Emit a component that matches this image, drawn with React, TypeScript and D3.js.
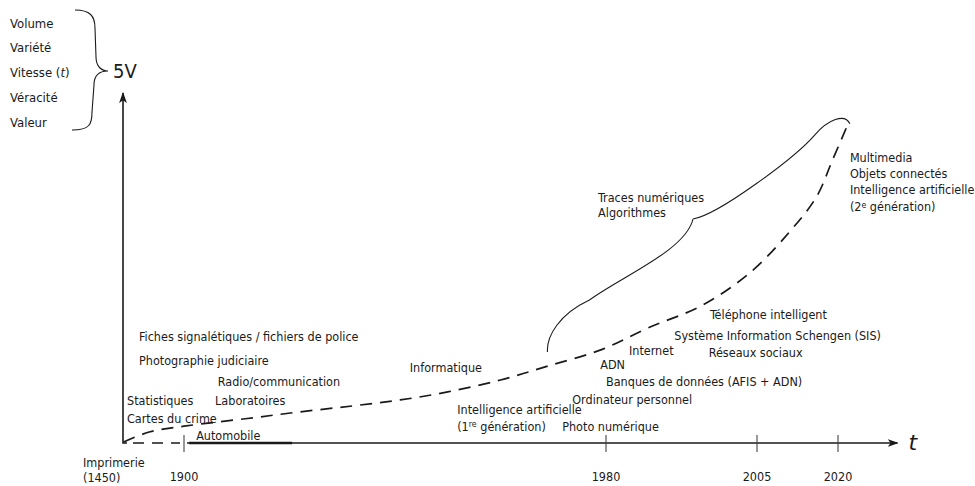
import React from "react";
import * as d3 from "d3";

// timeline ticks (years) and their labels
const tickYears = [1900, 1980, 2005, 2020];
const originYear = 1450;
const axisEndYear = 2031;

// "5V" list
const vWords = ["Volume", "Variété", "Vitesse", "Véracité", "Valeur"];

// growth curve (year, relative volume 0-100)
const curveYears = [1455, 1650, 1900, 1912, 1922, 1932, 1941, 1950, 1960, 1969, 1979, 1987, 1996, 2004, 2011, 2016, 2019, 2022];
const curveValues = [0.3, 3.2, 4.8, 7, 8.9, 10.6, 12.3, 14.6, 18, 22, 26.6, 32.9, 39.4, 48.9, 60.3, 70.3, 80.9, 91.7];

// automobile period drawn heavier on the axis
const autoPeriod = [1901, 1920.5];

// event labels: text, year anchor (left edge), level
const labelTexts = [
  "Fiches signalétiques / fichiers de police",
  "Photographie judiciaire",
  "Radio/communication",
  "Statistiques",
  "Laboratoires",
  "Cartes du crime",
  "Automobile",
  "Informatique",
  "Intelligence artificielle",
  "Photo numérique",
  "Ordinateur personnel",
  "Banques de données (AFIS + ADN)",
  "ADN",
  "Internet",
  "Téléphone intelligent",
  "Système Information Schengen (SIS)",
  "Réseaux sociaux",
  "Traces numériques",
  "Algorithmes",
  "Multimedia",
  "Objets connectés",
  "Intelligence artificielle",
];
const labelYears = [1568, 1568, 1906.4, 1479.5, 1905.9, 1479.5, 1902.3, 1942.8, 1951.8, 1971.7, 1973.6, 1980, 1978.9, 1983.8, 1997.2, 1991.3, 1997, 1978.5, 1978.5, 2022.2, 2022.2, 2022.2];
const labelLevels = [30.3, 23.4, 17.4, 12, 12, 6.9, 2, 21.4, 9.4, 4.6, 12.3, 17.4, 22.3, 26.3, 36.6, 30.6, 25.7, 70, 65.7, 81.4, 76.9, 72.3];

// labels with a superscript: prefix, sup, suffix, year, level
const supLabels = [
  { pre: "(1", sup: "re", post: " génération)", year: 1951.8, level: 4.6 },
  { pre: "(2", sup: "e", post: " génération)", year: 2022.2, level: 67.4 },
];

// brace along the curve ("Traces numériques / Algorithmes")
const braceStart = { year: 1968.9, level: 26 };
const braceTip = { year: 1994.4, level: 64 };
const braceEnd = { year: 2022.2, level: 91.2 };

const W = 975;
const H = 486;
const FONT = "'Liberation Sans Narrow', 'DejaVu Sans Condensed', 'Roboto Condensed', 'Liberation Sans', sans-serif";
const FS = 12.5;
const INK = "#1a1a1a";

export default function App() {
  const x = d3
    .scaleLinear()
    .domain([originYear, ...tickYears])
    .range([123, 184, 606, 757, 838]);
  const y = d3.scaleLinear().domain([0, 100]).range([443, 93]);

  const x0 = x(originYear);
  const y0 = y(0);

  const curvePts: [number, number][] = curveYears.map((yr, i) => [x(yr), y(curveValues[i])]);
  const curvePath = d3.line().curve(d3.curveCatmullRom.alpha(0.5))(curvePts) || "";

  // brace built from its three anchors
  const S = [x(braceStart.year), y(braceStart.level)];
  const K = [x(braceTip.year), y(braceTip.level)];
  const E = [x(braceEnd.year), y(braceEnd.level)];
  const bp = d3.path();
  const p1 = [S[0] + 42, S[1] - 52];
  bp.moveTo(S[0], S[1]);
  bp.bezierCurveTo(S[0] - 1, S[1] - 16, S[0] + 12, S[1] - 38, p1[0], p1[1]);
  bp.bezierCurveTo(p1[0] + 33, p1[1] - 24, K[0] - 7, K[1] + 31, K[0], K[1]);
  const p2 = [E[0] - 35, E[1] + 11];
  bp.moveTo(K[0], K[1]);
  bp.bezierCurveTo(K[0] + 25, K[1] - 4, p2[0] - 20, p2[1] + 23, p2[0], p2[1]);
  bp.bezierCurveTo(p2[0] + 13, p2[1] - 15, E[0] - 5, E[1] - 11, E[0], E[1]);

  // 5V curly brace
  const listY = d3.scalePoint<string>().domain(vWords).range([23, 122]);
  const vp = d3.path();
  const top = listY(vWords[0])! - 13;
  const bot = listY(vWords[vWords.length - 1])! + 8;
  const mid = (top + bot) / 2 + 1;
  const bx = 95;
  const tipX = 108;
  vp.moveTo(75, top);
  vp.bezierCurveTo(90, top, bx, top + 6, bx, top + 18);
  vp.lineTo(bx + 1, mid - 14);
  vp.bezierCurveTo(bx + 1, mid - 4, tipX - 6, mid, tipX, mid);
  vp.bezierCurveTo(tipX - 8, mid, bx - 1, mid + 4, bx - 1, mid + 14);
  vp.lineTo(bx - 3, bot - 18);
  vp.bezierCurveTo(bx - 3, bot - 6, 90, bot, 72, bot);

  const axisEnd = x(axisEndYear);

  return (
    <svg width={W} height={H} style={{ position: "absolute", left: 0, top: 0 }} fontFamily={FONT}>
      <defs>
        <marker id="arr" viewBox="0 0 10 10" refX="9" refY="5" markerWidth="7" markerHeight="7" orient="auto">
          <path d="M0,1.5 L10,5 L0,8.5 L2.5,5 Z" fill={INK} />
        </marker>
      </defs>

      {/* 5V list */}
      {vWords.map((w) => (
        <text key={w} x={10} y={listY(w)} dy="0.35em" fontSize={13} fill={INK}>
          {w === "Vitesse" ? (
            <>
              Vitesse (<tspan fontStyle="italic">t</tspan>)
            </>
          ) : (
            w
          )}
        </text>
      ))}
      <path d={vp.toString()} fill="none" stroke={INK} strokeWidth={1.1} />
      <text x={113} y={mid} dy="0.36em" fontSize={20} fill={INK}>
        5V
      </text>

      {/* y axis */}
      <path
        d={`M${x0 + 4},${y0} L${x0},${y0} L${x0},${y(100)}`}
        fill="none"
        stroke={INK}
        strokeWidth={1.6}
        markerEnd="url(#arr)"
      />

      {/* x axis */}
      <line x1={x0 + 4} x2={x(tickYears[0]) - 4} y1={y0} y2={y0} stroke={INK} strokeWidth={1.6} strokeDasharray="11,8" strokeDashoffset={-6} />
      <line x1={x(tickYears[0]) + 3} x2={axisEnd} y1={y0} y2={y0} stroke={INK} strokeWidth={1.5} markerEnd="url(#arr)" />
      <line x1={x(autoPeriod[0])} x2={x(autoPeriod[1])} y1={y0} y2={y0} stroke={INK} strokeWidth={2.3} />
      <text x={axisEnd + 11} y={y0} dy="0.32em" fontSize={22} fontStyle="italic" fontFamily="'DejaVu Sans', sans-serif" fill={INK}>
        t
      </text>

      {tickYears.map((t) => (
        <g key={t}>
          <line x1={x(t)} x2={x(t)} y1={y0 - 8} y2={y0 + 9} stroke="#444" strokeWidth={1.1} />
          <text x={x(t)} y={477} dy="0.35em" textAnchor="middle" fontSize={FS} fill={INK}>
            {t}
          </text>
        </g>
      ))}
      <text x={x0 - 40} y={463} dy="0.35em" fontSize={FS} fill={INK}>
        Imprimerie
      </text>
      <text x={x0 - 40} y={478} dy="0.35em" fontSize={FS} fill={INK}>
        ({originYear})
      </text>

      {/* growth curve */}
      <path d={curvePath} fill="none" stroke={INK} strokeWidth={1.7} strokeDasharray="12,8" />

      {/* brace */}
      <path d={bp.toString()} fill="none" stroke={INK} strokeWidth={1.1} />

      {/* labels */}
      {labelTexts.map((t, i) => (
        <text key={i} x={x(labelYears[i])} y={y(labelLevels[i])} dy="0.35em" fontSize={FS} fill={INK}>
          {t}
        </text>
      ))}
      {supLabels.map((l, i) => (
        <text key={"s" + i} x={x(l.year)} y={y(l.level)} dy="0.35em" fontSize={FS} fill={INK}>
          {l.pre}
          <tspan fontSize={FS * 0.7} dy="-0.45em">
            {l.sup}
          </tspan>
          <tspan dy="0.3em">{l.post}</tspan>
        </text>
      ))}
    </svg>
  );
}
